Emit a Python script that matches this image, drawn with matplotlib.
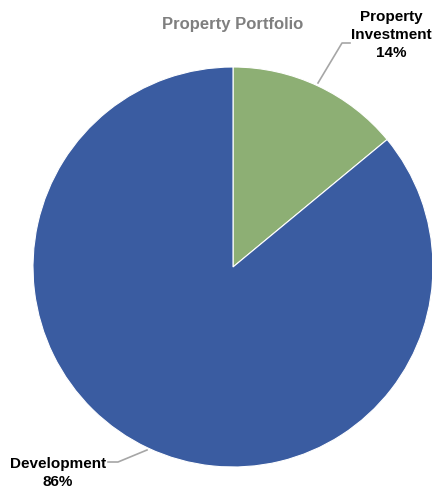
import matplotlib.pyplot as plt
from matplotlib import font_manager

# data
labels = ['Property\nInvestment', 'Development']
shares = [14, 86]
colors = ['#8DAF74', '#3A5CA1']

names = {f.name for f in font_manager.fontManager.ttflist}
fam = ['Liberation Sans Narrow', 'Liberation Sans', 'DejaVu Sans']
fam = [f for f in fam if f in names] or ['DejaVu Sans']

fig = plt.figure(figsize=(4.32, 4.94), dpi=100)
ax = fig.add_axes([0, 0, 1, 1])
ax.set_xlim(0, 432)
ax.set_ylim(0, 494)
ax.set_aspect('equal')
ax.axis('off')

cx, cy, r = 233, 494 - 267, 200
wedges, _ = ax.pie(shares, colors=colors, startangle=90, counterclock=False,
                   center=(cx, cy), radius=r,
                   wedgeprops=dict(edgecolor='white', linewidth=0.8))
ax.set_xlim(0, 432)
ax.set_ylim(0, 494)

ax.text(233, 494 - 25, 'Property Portfolio', ha='center', va='center',
        fontsize=12, fontweight='bold', color='#7F7F7F', family=fam)

# leader lines
ax.plot([318, 342, 350], [494 - 83, 494 - 43, 494 - 43], color='#A6A6A6', lw=1.2)
ax.plot([147, 118, 108], [494 - 450, 494 - 462, 494 - 462], color='#A6A6A6', lw=1.2)

ax.text(391, 494 - 35, f'{labels[0]}\n{shares[0]}%', ha='center', va='center',
        fontsize=11, fontweight='bold', color='black', family=fam, linespacing=1.35)
ax.text(58, 494 - 473, f'{labels[1]}\n{shares[1]}%', ha='center', va='center',
        fontsize=11, fontweight='bold', color='black', family=fam, linespacing=1.35)

fig.savefig('out.png', dpi=100)
